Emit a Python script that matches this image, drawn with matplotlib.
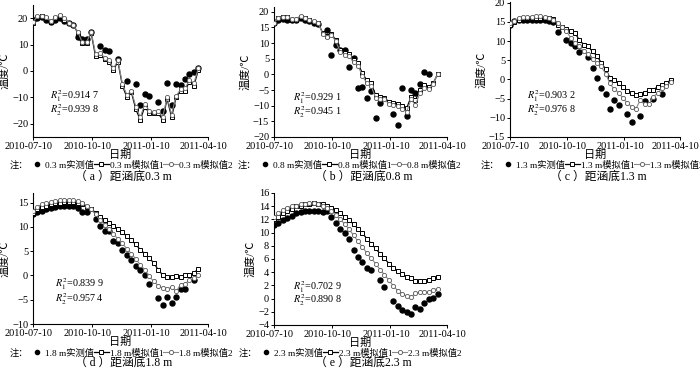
import matplotlib
matplotlib.use('Agg')
import matplotlib.pyplot as plt
from matplotlib.lines import Line2D
from matplotlib.transforms import IdentityTransform, ScaledTranslation
import numpy as np

plt.rcParams['font.family'] = ['Liberation Serif', 'Noto Sans CJK SC']
plt.rcParams['mathtext.fontset'] = 'stix'

nan = np.nan

# days after 2010-07-10, roughly weekly readings
days = [0, 7, 14, 21, 28, 35, 42, 49, 56, 63, 70, 77, 84, 91, 98, 105, 112, 119, 126,
        133, 140, 147, 154, 161, 168, 175, 182, 189, 196, 203, 210, 217, 224, 231,
        238, 245, 252, 259]
date_ticks = [0, 92, 184, 274]
date_labels = ['2010-07-10', '2010-10-10', '2011-01-10', '2011-04-10']

# (a) 0.3 m
a_meas = [19.5, 20, 20.5, 19.5, 18.5, 19.5, 20, 19, 18, 17.5, 13, 12, 12, 14.8, nan, 9.6, 7.9, 7.5, nan, 4.6,
          nan, -3.8, nan, -5, -13, -8.7, -9.4, nan, -11.6, -15, -4.4, -13, -5, -5.2, -3, -1.2, -0.4, 1.2]
a_sim1 = [18, 20.5, 20.8, 20, 18.5, 20, 21, 19.5, 18, 17.5, 14.5, 10.5, 10.5, 14.5, 5.5, 6, 4.5, 3.5, 0.5, 3.5,
          -5.5, -10, -8, -14.5, -18.5, -13.5, -16, -16, -16, -18.5, -10.5, -17.5, -10, -7.5, -7.5, -4, -5.5, 0.5]
a_sim2 = [18.5, 20.8, 21, 20.3, 18.8, 20.3, 21.3, 20, 18.3, 17.5, 14.8, 11, 11, 14.8, 6.5, 7, 5, 4, 1, 4,
          -5, -9, -7.5, -13.5, -17.5, -12.5, -15, -15.5, -15, -17.5, -10, -16.5, -9.5, -7, -6.5, -3.5, -4.5, 1]

# (b) 0.8 m
b_meas = [16.3, 17.5, 17.8, 17.5, 17.2, 17.2, 18, 17.5, 17, 16.3, 16, nan, 14.1, 6.1, 9.5, 7.9, 7.7, 2.4, 5.1, -4.5,
          -4, -7.4, -5.3, -13.8, -9.1, nan, nan, -12.5, -16.3, -4.2, -13.4, -4.9, -6.1, -3.1, 0.8, 0, nan, nan]
b_sim1 = [16.3, 17.9, 18.2, 18.2, 17.5, 17.5, 18.4, 17.9, 17.3, 16.8, 16.3, 13.3, 12.2, 12.9, 10.9, 7.7, 6.7, 6.5, 4.5, 3.5,
          0.3, -1.9, -2.9, -6.7, -7.2, -7.4, -8.8, -9.1, -9.5, -10.2, -10.9, -7.2, -8.3, -5.1, -3.5, -4, -2.9, 0]
b_sim2 = [16.5, 18.1, 18.4, 18.4, 17.8, 17.8, 18.6, 18.1, 17.5, 17, 16.5, 13, 12, 12.5, 10.5, 7.2, 6.3, 6, 3.8, 2.8,
          -0.5, -2.8, -3.8, -7.5, -8, -8, -9.5, -9.8, -10.2, -11, -12, -8, -9.8, -6, -4.2, -4.8, -3.2, 0.2]

# (c) 1.3 m
c_meas = [14.3, 15.2, 15.5, 15.5, 15.5, 15.5, 15.5, 15.5, 15.5, 15.3, 14.9, 12.4, nan, 10.4, 9.5, 8.8, 7.1, nan, 5.8, 2.9,
          0.3, -2.3, -3.8, -7.6, -5.4, -6.7, nan, -9.1, -11.1, nan, -9.6, -5.5, nan, -5.2, nan, -3.9, nan, nan]
c_sim1 = [14.3, 14.9, 15.6, 15.9, 15.9, 15.9, 16.1, 16.1, 16.1, 15.9, 15.8, 14.3, 13.7, 13.2, 12.6, 12.1, 10.2, 9.1, 8.6, 7.3,
          6.2, 4.4, 2.7, 0.5, -0.1, -0.8, -2.0, -2.9, -3.6, -4.1, -3.9, -3.6, -2.7, -2.7, -1.9, -1.4, -1.0, -0.1]
c_sim2 = [14.6, 15.2, 16.1, 16.3, 16.3, 16.3, 16.5, 16.5, 16.3, 16.1, 15.6, 14.6, 13.7, 12.6, 10.8, 9.5, 8.6, 7.3, 6.7, 5.3,
          4.3, 3.4, 1.5, -1.0, -2.6, -3.4, -4.9, -6.1, -7.1, -7.6, -5.4, -6.4, -6.4, -4.5, -3.6, -2.3, -1.7, -0.6]

# (d) 1.8 m
d_meas = [12.6, 13.1, 13.3, 13.6, 13.9, 14.1, 14.3, 14.4, 14.4, 14.4, 14.0, 13.1, 13.1, nan, 11.7, 10.2, 9.1, 9.1, 7.2, 6.7,
          5.2, 4.3, 3.1, 2.0, 1.2, 0.0, -1.7, nan, -4.7, -6.1, -4.5, -5.6, -4.5, -2.8, -2.8, nan, -0.9, nan]
d_sim1 = [12.9, 13.6, 14.2, 14.4, 14.7, 14.9, 15.0, 15.1, 15.1, 15.1, 15.0, 14.7, 14.2, 13.8, 12.9, 12.1, 11.4, 10.9, 10.2, 9.6,
          8.9, 8.1, 7.3, 6.4, 5.3, 4.5, 3.6, 2.6, 1.2, 0.1, -0.3, -0.3, -0.2, -0.3, 0.1, 0.1, 0.6, 1.3]
d_sim2 = [13.3, 14.2, 14.7, 14.9, 15.1, 15.3, 15.6, 15.6, 15.6, 15.6, 15.3, 15.0, 14.4, 13.6, 12.6, 11.4, 10.5, 9.5, 8.6, 7.5,
          6.6, 5.5, 4.5, 3.4, 2.2, 1.2, -0.2, -1.2, -2.1, -2.6, -2.8, -2.4, -3.3, -1.9, -1.7, -1.0, -0.5, 0.0]

# (e) 2.3 m
e_meas = [11.1, 11.5, 11.9, 12.2, 12.5, 12.9, 13.1, 13.3, 13.3, 13.3, 13.3, 13.1, 13.2, 12.3, 11.4, 10.5, 10.0, 9.1, 7.3, 6.3,
          5.6, 4.6, 4.4, nan, 2.8, 1.8, nan, -0.3, -1.1, -1.8, -2.1, -2.3, -1.2, -1.5, -0.7, 0.0, 0.1, 0.7]
e_sim1 = [12.0, 12.4, 12.9, 13.3, 13.6, 14.0, 14.1, 14.3, 14.4, 14.5, 14.4, 14.3, 14.0, 13.8, 13.4, 12.9, 12.4, 11.9, 11.3, 10.6,
          9.9, 9.1, 8.3, 7.6, 6.8, 6.1, 5.3, 4.7, 4.2, 3.7, 3.3, 3.1, 2.7, 2.7, 2.7, 2.8, 3.1, 3.2]
e_sim2 = [12.3, 12.9, 13.4, 13.8, 14.0, 14.1, 14.3, 14.4, 14.5, 14.5, 14.4, 14.1, 13.8, 13.3, 12.6, 12.0, 11.3, 10.5, 9.6, 8.7,
          7.8, 6.9, 6.1, 5.3, 4.4, 3.6, 2.8, 1.9, 1.2, 0.7, 0.4, 0.2, 0.8, 1.0, 1.0, 1.0, 1.3, 1.5]

depths = ['0.3', '0.8', '1.3', '1.8', '2.3']
tags = ['a', 'b', 'c', 'd', 'e']
r1_vals = ['0.914 7', '0.929 1', '0.903 2', '0.839 9', '0.702 9']
r2_vals = ['0.939 8', '0.945 1', '0.976 8', '0.957 4', '0.890 8']

W, H = 700, 368
# axes boxes in pixels: left, top, right, bottom
boxes = [(33, 5, 208, 137), (274, 7, 447, 137), (510, 2, 680, 137),
         (33, 193, 208, 324), (274, 193, 447, 325)]
ylims = [(-25, 25), (-20, 21.5), (-15, 20.2), (-10, 17), (-4, 16)]
yticks = [range(-20, 21, 10), range(-20, 21, 5), range(-15, 21, 5), range(-10, 16, 5), range(-4, 17, 2)]
# R^2 text spot: day, y of first line, y of second line
rpos = [(27, -9.5, -14.7), (30, -7.5, -12), (27, -4.3, -8.0), (34, -1.8, -4.9), (30, 1.8, -0.2)]
# text rows under each panel (pixels from top): legend, caption; plus legend centre x
text_rows = [(165, 177), (165, 177), (165, 177), (353, 363), (353, 363)]
legend_cx = [131, 359, 602, 131, 360]

meas_all = [a_meas, b_meas, c_meas, d_meas, e_meas]
sim1_all = [a_sim1, b_sim1, c_sim1, d_sim1, e_sim1]
sim2_all = [a_sim2, b_sim2, c_sim2, d_sim2, e_sim2]

fig = plt.figure(figsize=(7, 3.68), dpi=100)
legends = []
shift = ScaledTranslation(-3 / 72, 0, fig.dpi_scale_trans)

for i in range(5):
    l, t, r, b = boxes[i]
    ax = fig.add_axes([l / W, 1 - b / H, (r - l) / W, (b - t) / H])
    ax.plot(days, meas_all[i], 'o', color='black', ms=3.6, zorder=2)
    ax.plot(days, sim1_all[i], '-s', color='black', mfc='white', ms=3, mew=0.7, lw=0.9, zorder=3)
    ax.plot(days, sim2_all[i], '-o', color='#8a8a8a', mec='#555555', mfc='white', ms=3, mew=0.6, lw=0.8, zorder=4)

    ax.set_xlim(0, 274)
    ax.set_ylim(*ylims[i])
    ax.set_xticks(date_ticks)
    ax.set_xticklabels(date_labels)
    ax.set_yticks(list(yticks[i]))
    ax.tick_params(direction='out', length=2.5, width=0.7, labelsize=7.5, pad=1)
    for lab in ax.get_xticklabels():
        lab.set_transform(lab.get_transform() + shift)
    for s in ['top', 'right']:
        ax.spines[s].set_visible(False)
    for s in ['left', 'bottom']:
        ax.spines[s].set_linewidth(0.8)
    ax.set_xlabel('日期', fontsize=8, labelpad=-1)
    ax.set_ylabel('温度/℃', fontsize=8, labelpad=2)

    xd, y1, y2 = rpos[i]
    ax.text(xd, y1, r'$R_1^2$=' + r1_vals[i], fontsize=7.3, va='center')
    ax.text(xd, y2, r'$R_2^2$=' + r2_vals[i], fontsize=7.3, va='center')

    # legend row under the panel
    d = depths[i]
    h1 = Line2D([], [], ls='none', marker='o', color='black', ms=3)
    h2 = Line2D([], [], color='black', marker='s', mfc='white', ms=3, mew=0.7, lw=0.9)
    h3 = Line2D([], [], color='#8a8a8a', marker='o', mec='#555555', mfc='white', ms=3, mew=0.6, lw=0.8)
    leg = ax.legend([h1, h2, h3], [d + ' m实测值', d + ' m模拟值1', d + ' m模拟值2'],
                    loc='center', bbox_to_anchor=(legend_cx[i] / W, 1 - text_rows[i][0] / H),
                    bbox_transform=fig.transFigure, ncol=3, frameon=False, fontsize=6.7,
                    handlelength=1.6, handletextpad=0.1, columnspacing=0.0, borderpad=0,
                    numpoints=1)
    legends.append(leg)
    fig.text(((l + r) / 2 + 3) / W, 1 - text_rows[i][1] / H, '（ ' + tags[i] + ' ）距涵底' + d + ' m',
             ha='center', va='center', fontsize=8.5)

# the "注：" prefix goes just left of each legend
fig.canvas.draw()
for leg in legends:
    bb = leg.get_window_extent()
    fig.text(bb.x0 - 1, (bb.y0 + bb.y1) / 2, '注：', transform=IdentityTransform(),
             ha='right', va='center', fontsize=6.7)

fig.savefig('out.png', dpi=100)
